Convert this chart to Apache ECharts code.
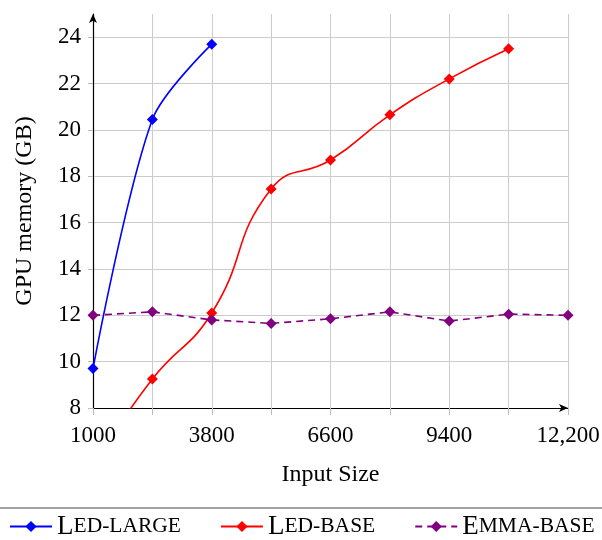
<!DOCTYPE html>
<html>
<head>
<meta charset="utf-8">
<script src="https://cdn.jsdelivr.net/npm/echarts@6/dist/echarts.min.js"></script>
<style>
  html, body { margin: 0; padding: 0; background: #fff; }
  #chart { width: 602px; height: 540px; }
</style>
</head>
<body>
<div id="chart"></div>
<script>
// input sizes (x categories, one every 1400)
const inputSizes = ['1000', '2400', '3800', '5200', '6600', '8000', '9400', '10,800', '12,200'];
const yTicks = [8, 10, 12, 14, 16, 18, 20, 22, 24];

// GPU memory (GB)
const ledLarge = [9.7, 20.45, 23.7];
const ledBase = [5.5, 9.25, 12.1, 17.45, 18.7, 20.65, 22.2, 23.5];
const emmaBase = [12.0, 12.15, 11.8, 11.65, 11.85, 12.15, 11.75, 12.05, 12.0];

const FONT = '"Liberation Serif", "DejaVu Serif", serif';

const chart = echarts.init(document.getElementById('chart'));

// small caps label: first letter big, rest small
const capsRich = {
  big: { fontFamily: FONT, fontSize: 27, color: '#000' },
  small: { fontFamily: FONT, fontSize: 21.5, color: '#000' }
};
const capsNames = {
  'Led-large': '{big|L}{small|ED-LARGE}',
  'Led-base': '{big|L}{small|ED-BASE}',
  'Emma-base': '{big|E}{small|MMA-BASE}'
};

// grid line colours: hide the extra line at the axis max (25)
const hLineColors = yTicks.map(() => '#cccccc').concat(['rgba(0,0,0,0)']);

const option = {
  animation: false,
  grid: { left: 93, right: 34, top: 14, bottom: 132, containLabel: false, outerBoundsMode: 'none' },
  xAxis: {
    type: 'category',
    data: inputSizes,
    boundaryGap: false,
    name: 'Input Size',
    nameLocation: 'middle',
    nameGap: 55,
    nameTextStyle: { fontFamily: FONT, fontSize: 24, color: '#000' },
    axisLine: { lineStyle: { color: '#000', width: 1.2 }, symbol: ['none', 'arrow'], symbolSize: [6, 9] },
    axisTick: { show: true, interval: 0, length: 7, lineStyle: { color: '#bbb' } },
    axisLabel: { interval: 1, margin: 16, fontFamily: FONT, fontSize: 23, color: '#000' },
    splitLine: { show: true, interval: 0, lineStyle: { color: '#cccccc', width: 1 } }
  },
  yAxis: {
    type: 'value',
    min: 8,
    max: 25,
    interval: 2,
    name: 'GPU memory (GB)',
    nameLocation: 'middle',
    nameGap: 56,
    nameTextStyle: { fontFamily: FONT, fontSize: 24, color: '#000' },
    axisLine: { show: true, lineStyle: { color: '#000', width: 1.2 }, symbol: ['none', 'arrow'], symbolSize: [6, 9] },
    axisTick: { show: true, length: 5, lineStyle: { color: '#bbb' } },
    axisLabel: {
      margin: 12, fontFamily: FONT, fontSize: 23, color: '#000', showMaxLabel: false,
      formatter: v => (v === 25 ? '' : String(v))
    },
    splitLine: { show: true, lineStyle: { color: hLineColors, width: 1 } }
  },
  legend: {
    top: 508,
    left: 4,
    itemWidth: 42,
    itemHeight: 14,
    itemGap: 39,
    formatter: name => capsNames[name],
    textStyle: { rich: capsRich }
  },
  graphic: [{
    type: 'line',
    shape: { x1: 0, y1: 508, x2: 602, y2: 508 },
    style: { stroke: '#444', lineWidth: 1.2 }
  }],
  series: [
    {
      name: 'Led-large',
      type: 'line',
      data: ledLarge,
      smooth: 0.3,
      symbol: 'diamond',
      symbolSize: 11,
      color: '#0000ff',
      lineStyle: { width: 1.6 }
    },
    {
      name: 'Led-base',
      type: 'line',
      data: ledBase,
      smooth: 0.5,
      symbol: 'diamond',
      symbolSize: 11,
      color: '#ff0000',
      lineStyle: { width: 1.6 }
    },
    {
      name: 'Emma-base',
      type: 'line',
      data: emmaBase,
      symbol: 'diamond',
      symbolSize: 11,
      color: '#800080',
      lineStyle: { width: 1.6, type: [7, 5] }
    }
  ]
};

chart.setOption(option);
</script>
</body>
</html>
